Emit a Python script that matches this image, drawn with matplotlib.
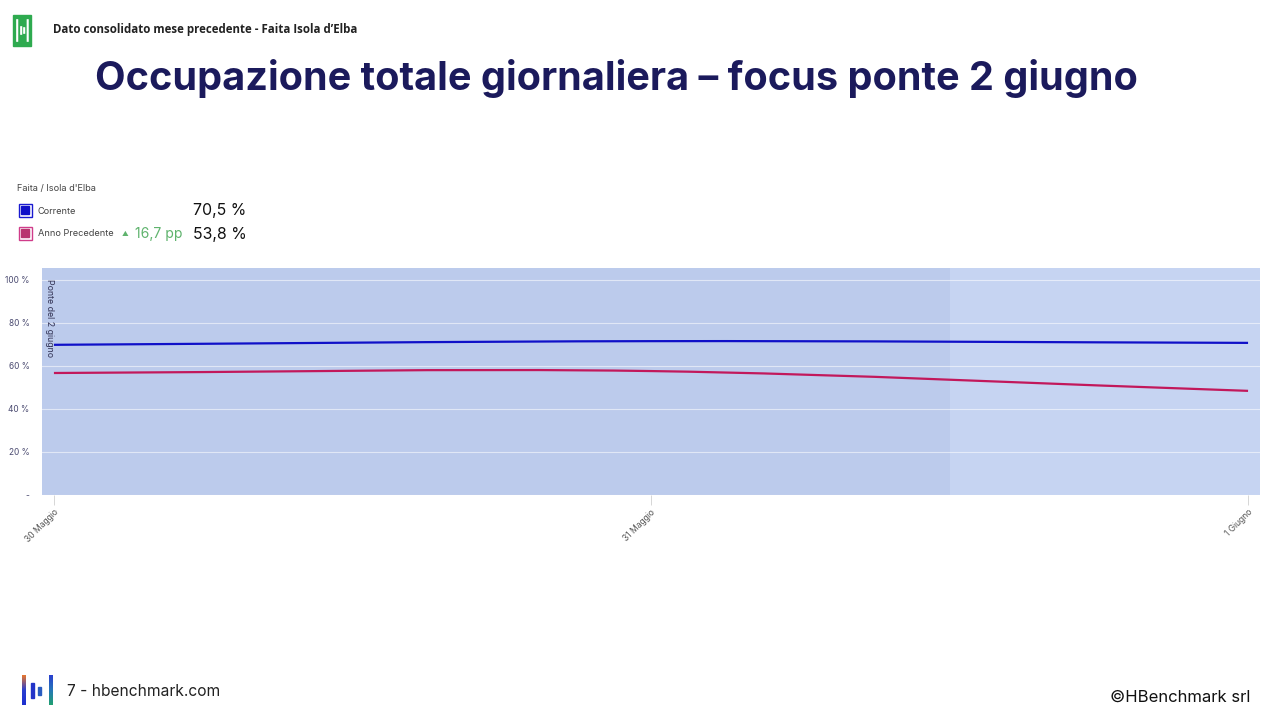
import numpy as np
import matplotlib
matplotlib.use("Agg")
import matplotlib.pyplot as plt
from matplotlib.patches import Rectangle, FancyBboxPatch, PathPatch
from matplotlib.path import Path
from matplotlib.colors import LinearSegmentedColormap

# data
days = ["30 Maggio", "31 Maggio", "1 Giugno"]
corrente = [69.8, 71.5, 70.7]
anno_prec = [56.7, 57.6, 48.4]
ponte_start = -0.02
ponte_end = 1.5
y_ticks = [0, 20, 40, 60, 80, 100]
y_labels = ["-", "20 %", "40 %", "60 %", "80 %", "100 %"]

NAVY = "#1b1a5c"
BLUE = "#1010c8"
PINK = "#c2185b"
BG = "#c6d4f2"
BAND = "#bccbec"
plt.rcParams["font.family"] = ["Inter", "DejaVu Sans"]


def spline_path(xs, ys):
    # smooth curve through the points (cubic bezier, catmull-rom style tangents)
    xs = np.asarray(xs, float); ys = np.asarray(ys, float)
    n = len(xs)
    m = np.zeros(n)
    for i in range(n):
        if i == 0:
            m[i] = (ys[1] - ys[0]) / (xs[1] - xs[0])
        elif i == n - 1:
            m[i] = (ys[-1] - ys[-2]) / (xs[-1] - xs[-2])
        else:
            m[i] = (ys[i + 1] - ys[i - 1]) / (xs[i + 1] - xs[i - 1])
    verts = [(xs[0], ys[0])]
    codes = [Path.MOVETO]
    for i in range(n - 1):
        h = xs[i + 1] - xs[i]
        verts += [(xs[i] + h / 3, ys[i] + m[i] * h / 3),
                  (xs[i + 1] - h / 3, ys[i + 1] - m[i + 1] * h / 3),
                  (xs[i + 1], ys[i + 1])]
        codes += [Path.CURVE4] * 3
    return Path(verts, codes)


W, H = 1280, 720
fig = plt.figure(figsize=(12.8, 7.2), dpi=100)
fig.patch.set_facecolor("white")

# ---- chart axes (pixel box 42..1260 x 268..495)
ax = fig.add_axes([42 / W, (H - 495) / H, (1260 - 42) / W, (495 - 268) / H])
ax.set_facecolor(BG)
xs = np.arange(len(days))
ax.axvspan(ponte_start, ponte_end, color=BAND, zorder=0, lw=0)
ax.add_patch(PathPatch(spline_path(xs, anno_prec), fill=False, ec=PINK, lw=1.6,
                       zorder=3, capstyle="butt"))
ax.add_patch(PathPatch(spline_path(xs, corrente), fill=False, ec=BLUE, lw=1.6,
                       zorder=3, capstyle="butt"))
ax.set_xlim(-0.02, 2.02)
ax.set_ylim(0, 105.5)
ax.set_yticks(y_ticks)
ax.set_yticklabels(y_labels)
ax.yaxis.grid(True, color="white", lw=0.8, alpha=0.55)
ax.set_axisbelow(True)
ax.tick_params(axis="y", length=0, labelsize=6, labelcolor="#4a4a70", pad=9)
ax.set_xticks(xs)
ax.set_xticklabels(days, rotation=45, ha="right", rotation_mode="anchor")
ax.tick_params(axis="x", length=7, color="#d0d0d0", width=0.6, labelsize=6.2,
               labelcolor="#555555", pad=2)
for s in ax.spines.values():
    s.set_visible(False)
ax.text(ponte_start + 0.005, 100.5, "Ponte del 2 giugno", rotation=-90, fontsize=6.3,
        color="#333355", va="top", ha="left")

# ---- overlay in pixel coordinates for the slide decorations
ov = fig.add_axes([0, 0, 1, 1], zorder=5)
ov.set_xlim(0, W)
ov.set_ylim(H, 0)
ov.axis("off")

# header logo + caption
ov.add_patch(Rectangle((13, 15), 18, 31, color="#2eaa4f"))
for bx, by, bh in [(16.5, 19.5, 22), (20.5, 26.5, 8), (23.5, 27.5, 6), (27, 19.5, 22)]:
    ov.add_patch(FancyBboxPatch((bx, by), 1.4, bh, boxstyle="round,pad=0.35",
                                color="white", lw=0))
ov.text(53, 30, "Dato consolidato mese precedente - Faita Isola d\u2019Elba",
        fontsize=8.3, fontweight="bold", color="#222222", va="center",
        family="Open Sans")

ov.text(616, 78, "Occupazione totale giornaliera \u2013 focus ponte 2 giugno",
        fontsize=28.5, fontweight="bold", color=NAVY, ha="center", va="center",
        family="Inter")

# legend block
ov.text(17, 189, "Faita / Isola d'Elba", fontsize=6.6, color="#444444", va="center")
ov.add_patch(Rectangle((18.5, 203.5), 13, 13, fill=False, ec="#1a1ad0", lw=1.0))
ov.add_patch(Rectangle((21, 206), 8, 8, color="#1010c8"))
ov.add_patch(Rectangle((18.5, 226.5), 13, 13, fill=False, ec="#d03c8a", lw=1.0))
ov.add_patch(Rectangle((21, 229), 8, 8, color="#b8356f"))
ov.text(38, 211, "Corrente", fontsize=6.6, color="#444444", va="center")
ov.text(38, 234, "Anno Precedente", fontsize=6.6, color="#444444", va="center")
ov.text(122, 234, "\u25b2", fontsize=4.8, color="#5fb36d", va="center")
ov.text(135, 234, "16,7 pp", fontsize=10.1, color="#5fb36d", va="center")
ov.text(193, 211, "70,5 %", fontsize=11.4, color="#111111", va="center")
ov.text(193, 234, "53,8 %", fontsize=11.4, color="#111111", va="center")

# footer logo with gradient bars
grad = np.linspace(0, 1, 64).reshape(-1, 1)
ov.imshow(grad, extent=(22, 26, 705, 675), aspect="auto", zorder=2,
          cmap=LinearSegmentedColormap.from_list("a", ["#e8772e", "#2a3fcf", "#1d2fd0"]))
ov.imshow(grad, extent=(48.5, 52.5, 705, 675), aspect="auto", zorder=2,
          cmap=LinearSegmentedColormap.from_list("b", ["#2a3fcf", "#2577b8", "#21a070"]))
ov.add_patch(Rectangle((30.5, 683), 3, 15, color="#2233c8"))
ov.add_patch(Rectangle((38, 687), 3, 8, color="#2a5cc0"))
ov.set_xlim(0, W)
ov.set_ylim(H, 0)
ov.text(67, 692, "7 - hbenchmark.com", fontsize=11.2, color="#222222", va="center")
ov.text(1250, 697, "\u00a9HBenchmark srl", fontsize=12, color="#111111", va="center",
        ha="right")

fig.savefig("out.png", dpi=100, facecolor="white")
